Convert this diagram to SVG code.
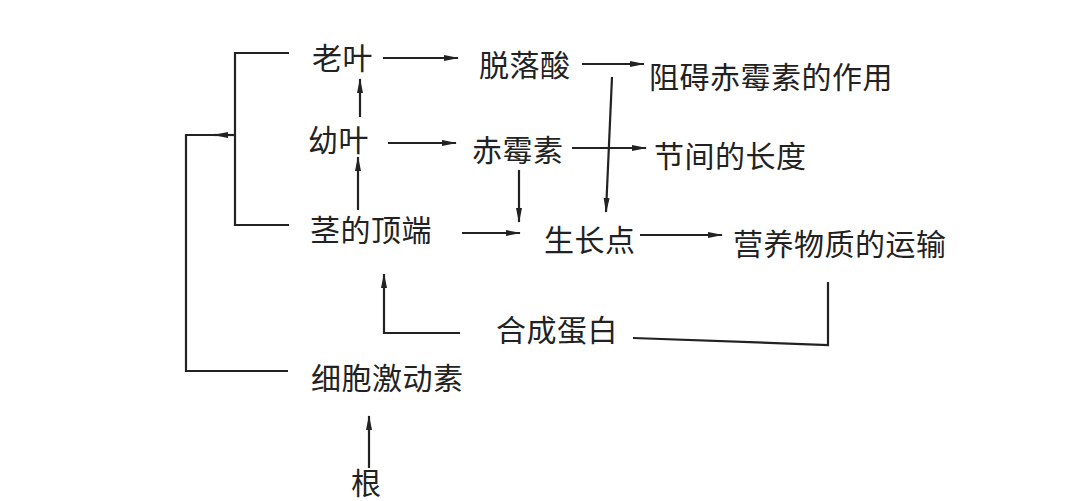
<svg xmlns="http://www.w3.org/2000/svg" width="1080" height="501" viewBox="0 0 1080 501">
<defs>
<marker id="ah" viewBox="0 0 15 8" refX="14" refY="4" markerWidth="15" markerHeight="8" markerUnits="userSpaceOnUse" orient="auto">
<path d="M0,1 L15,4 L0,7 Z" fill="#222"/>
</marker>
<style>
text{font-family:"Noto Sans CJK SC","Noto Sans CJK TC",sans-serif;font-size:30px;letter-spacing:0.5px;fill:#222}
.l{fill:none;stroke:#222;stroke-width:2.2}
.a{fill:none;stroke:#222;stroke-width:2.2;marker-end:url(#ah)}
</style>
</defs>
<rect width="1080" height="501" fill="#fff"/>
<g id="n-laoye"><text x="312" y="69">老叶</text></g>
<g id="n-youye"><text x="308" y="151">幼叶</text></g>
<g id="n-jing"><text x="310" y="241">茎的顶端</text></g>
<g id="n-tuoluosuan"><text x="479" y="76">脱落酸</text></g>
<g id="n-zuai"><text x="649" y="88">阻碍赤霉素的作用</text></g>
<g id="n-chimeisu"><text x="472" y="161">赤霉素</text></g>
<g id="n-jiejian"><text x="654" y="167">节间的长度</text></g>
<g id="n-shengzhangdian"><text x="544" y="251">生长点</text></g>
<g id="n-yingyang"><text x="733" y="255">营养物质的运输</text></g>
<g id="n-hecheng"><text x="496" y="341">合成蛋白</text></g>
<g id="n-xibao"><text x="311" y="389">细胞激动素</text></g>
<g id="n-gen"><text x="351" y="494">根</text></g>
<g id="connectors">
<path class="l" d="M289,53 H235 V225 H289"/>
<path class="a" d="M235,135 H214"/>
<path class="l" d="M216,135 H186 V371 H288"/>
<path class="a" d="M383,58 H458"/>
<path class="a" d="M388,143 H456"/>
<path class="a" d="M360,117 V79"/>
<path class="a" d="M358,210 V157"/>
<path class="a" d="M462,233 H520"/>
<path class="a" d="M582,64 H644"/>
<path class="a" d="M612,77 L606,212"/>
<path class="a" d="M572,148 H646"/>
<path class="a" d="M519,170 V222"/>
<path class="a" d="M640,235 H722"/>
<path class="l" d="M828,282 V345 L633,338"/>
<path class="a" d="M460,333 H384 V274"/>
<path class="a" d="M369,468 V416"/>
</g>
</svg>
